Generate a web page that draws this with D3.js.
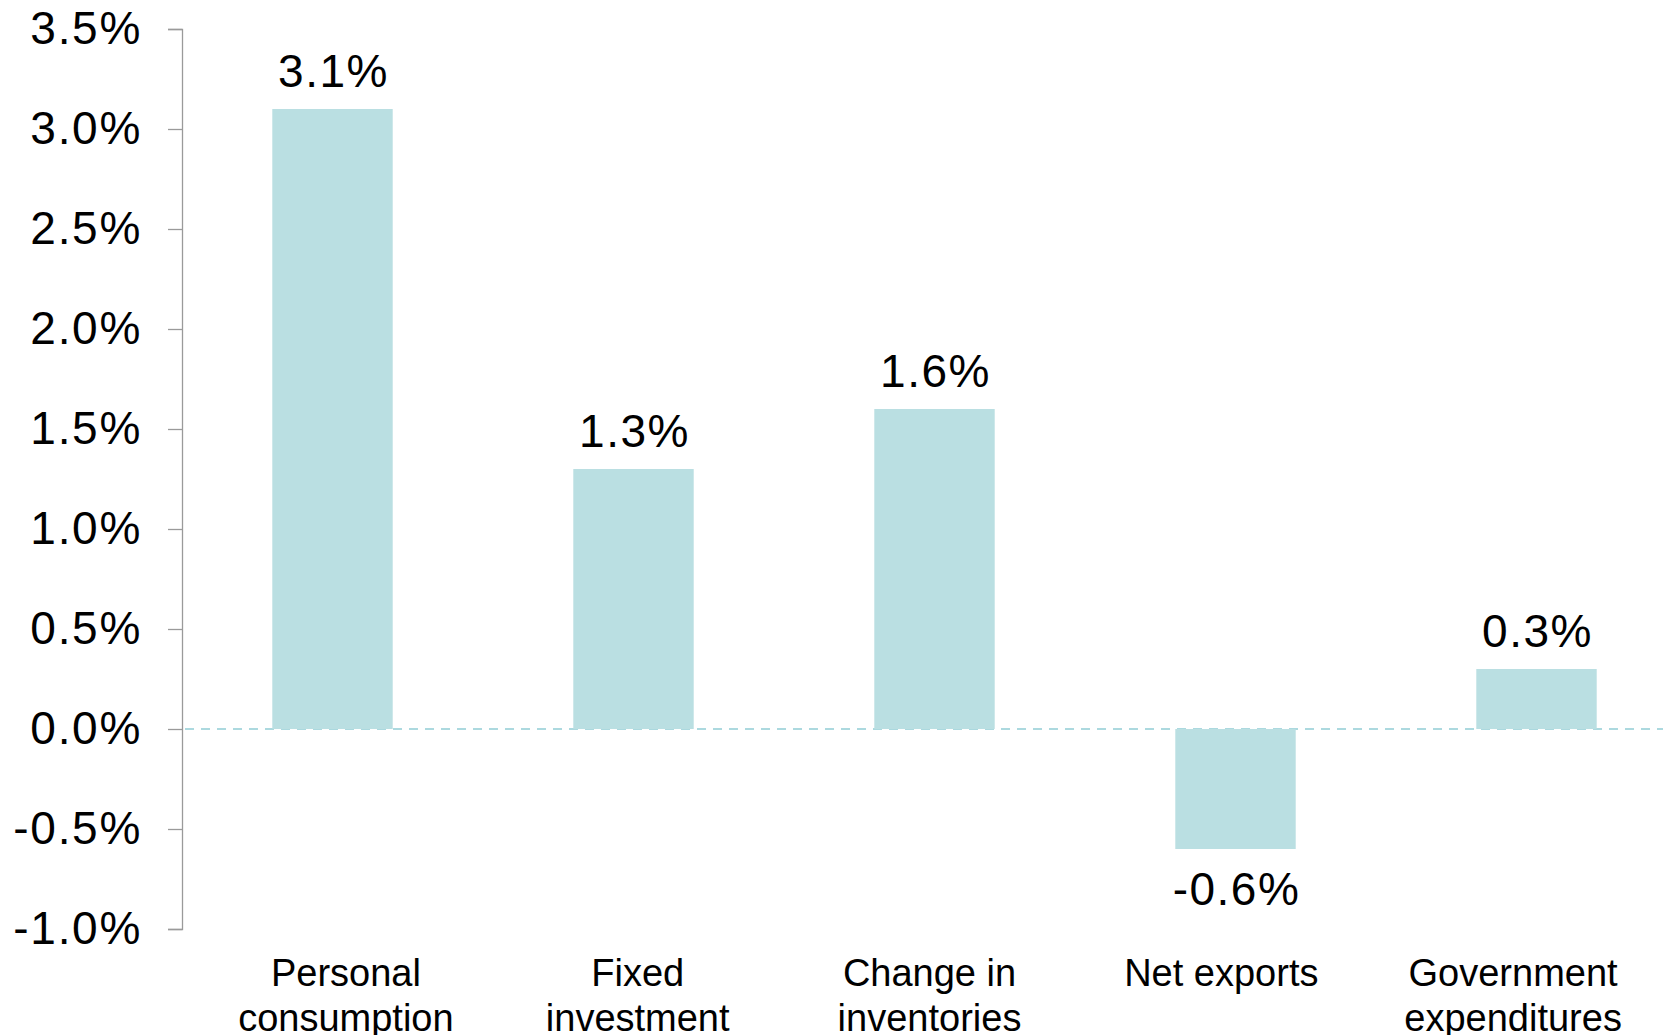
<!DOCTYPE html>
<html>
  <head>
    <script src="https://d3js.org/d3.v7.min.js"></script>
    <style>
      body { margin: 0; background: #fff; }
      text { font-family: "Liberation Sans", Arial, sans-serif; fill: #000; }
    </style>
  </head>
  <body>
    <script>

      // data
      var categories = ["Personal consumption", "Fixed investment", "Change in inventories", "Net exports", "Government expenditures"];
      var labelLines = [["Personal", "consumption"], ["Fixed", "investment"], ["Change in", "inventories"], ["Net exports"], ["Government", "expenditures"]];
      var values = [3.1, 1.3, 1.6, -0.6, 0.3];
      var yTicks = [-1.0, -0.5, 0.0, 0.5, 1.0, 1.5, 2.0, 2.5, 3.0, 3.5];

      var W = 1663, H = 1035;
      var axisX = 182;

      var svg = d3.select("body")
        .append("svg")
        .attr("width", W)
        .attr("height", H);

      var y = d3.scaleLinear()
        .domain([-1, 3.5])
        .range([929, 29]);

      // bars sit on a wider band than the category labels
      var x = d3.scaleBand()
        .domain(categories)
        .range([axisX, axisX + 1505])
        .paddingInner(0.6)
        .paddingOuter(0.3);

      var xLabel = d3.scaleBand()
        .domain(categories)
        .range([200, 1659]);

      var fmt = function(v) { return v.toFixed(1) + "%"; };

      // zero line
      svg.append("line")
        .attr("x1", axisX + 3)
        .attr("x2", W)
        .attr("y1", y(0))
        .attr("y2", y(0))
        .attr("stroke", "#acd9df")
        .attr("stroke-width", 2)
        .attr("stroke-dasharray", "9,7");

      // bars
      svg.selectAll("rect.bar")
        .data(values)
        .enter()
        .append("rect")
        .attr("class", "bar")
        .attr("x", function(d, i) { return x(categories[i]); })
        .attr("width", x.bandwidth())
        .attr("y", function(d) { return y(Math.max(0, d)); })
        .attr("height", function(d) { return Math.abs(y(d) - y(0)); })
        .attr("fill", "#badfe2");

      // value labels
      svg.selectAll("text.val")
        .data(values)
        .enter()
        .append("text")
        .attr("class", "val")
        .attr("x", function(d, i) { return x(categories[i]) + x.bandwidth() / 2 + 1; })
        .attr("y", function(d) { return d >= 0 ? y(d) - 22 : y(d) + 56; })
        .attr("text-anchor", "middle")
        .style("font-size", "46px")
        .style("letter-spacing", "1.5px")
        .text(fmt);

      // y axis
      var yAxis = svg.append("g")
        .attr("transform", "translate(" + axisX + ",0)")
        .call(d3.axisLeft(y).tickValues(yTicks).tickFormat(fmt).tickSize(14).tickSizeOuter(14).tickPadding(26));

      yAxis.selectAll("line, path").attr("stroke", "#9a9a9a").attr("stroke-width", 1.3);
      yAxis.selectAll("text")
        .style("font-size", "46px")
        .style("letter-spacing", "1.7px")
        .style("font-family", "'Liberation Sans', Arial, sans-serif")
        .attr("fill", "#000");

      // category labels
      var xg = svg.append("g");

      var cat = xg.selectAll("text.cat")
        .data(categories)
        .enter()
        .append("text")
        .attr("class", "cat")
        .attr("x", function(d) { return xLabel(d) + xLabel.bandwidth() / 2; })
        .attr("y", 986)
        .attr("text-anchor", "middle")
        .style("font-size", "38px");

      cat.selectAll("tspan")
        .data(function(d, i) { return labelLines[i]; })
        .enter()
        .append("tspan")
        .attr("x", function() { return d3.select(this.parentNode).attr("x"); })
        .attr("dy", function(d, j) { return j === 0 ? 0 : 44.5; })
        .text(function(d) { return d; });

    </script>
  </body>
</html>
